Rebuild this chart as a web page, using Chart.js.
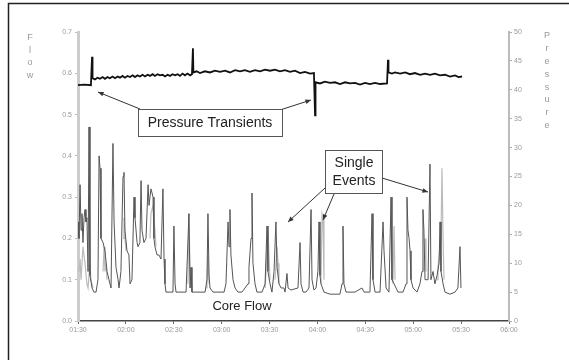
<!DOCTYPE html>
<html>
<head>
<meta charset="utf-8">
<script src="https://cdn.jsdelivr.net/npm/chart.js@4"></script>
<style>
  html, body { margin: 0; padding: 0; background: #fff; }
  #wrap { width: 569px; height: 360px; }
</style>
</head>
<body>
<div id="wrap"><canvas id="chart" width="569" height="360"></canvas></div>
<script>
// time axis: minutes after 01:30
const timeTicks = [0, 30, 60, 90, 120, 150, 180, 210, 240, 270];
const startMinutes = 90; // 01:30

// core flow (dark trace): [minutes, flow]
const flowDark = [
  [0, 0.24], [0.6, 0.20], [1.3, 0.33], [1.9, 0.22], [2.5, 0.26], [3.1, 0.19], [3.8, 0.25],
  [4.4, 0.27], [5.0, 0.24], [5.6, 0.25], [6.3, 0.12], [6.9, 0.47], [7.5, 0.11], [8.8, 0.08],
  [10.0, 0.07], [11.3, 0.07], [12.5, 0.10], [13.2, 0.40], [13.8, 0.37], [14.4, 0.20],
  [15.7, 0.19], [16.9, 0.17], [18.2, 0.12], [19.4, 0.10], [20.7, 0.08], [21.9, 0.43],
  [22.6, 0.24], [23.8, 0.13], [25.1, 0.10], [25.7, 0.08], [26.9, 0.12], [28.2, 0.35],
  [28.8, 0.36], [29.4, 0.22], [30.7, 0.17], [31.9, 0.16], [32.6, 0.09], [33.8, 0.10],
  [35.1, 0.30], [35.7, 0.25], [37.0, 0.19], [37.6, 0.18], [38.8, 0.19], [39.5, 0.34],
  [40.1, 0.22], [41.3, 0.19], [42.6, 0.20], [43.9, 0.33], [44.5, 0.28], [45.7, 0.32],
  [46.4, 0.31], [47.0, 0.30], [47.6, 0.20], [48.2, 0.18], [49.5, 0.16], [50.7, 0.16],
  [52.0, 0.15], [53.2, 0.32], [53.9, 0.15], [54.5, 0.09], [55.1, 0.07], [57.6, 0.07],
  [59.5, 0.07], [60.1, 0.23], [60.8, 0.09], [61.4, 0.07], [63.9, 0.07], [67.7, 0.07],
  [69.5, 0.26], [70.2, 0.08], [70.8, 0.13], [71.4, 0.07], [73.9, 0.07], [79.6, 0.07],
  [80.8, 0.10], [81.4, 0.26], [82.1, 0.11], [82.7, 0.08], [84.6, 0.07], [91.5, 0.07],
  [92.7, 0.09], [94.0, 0.24], [94.6, 0.18], [95.2, 0.27], [95.8, 0.16], [97.1, 0.10],
  [98.4, 0.08], [100.2, 0.07], [102.7, 0.07], [104.6, 0.08], [106.5, 0.09], [107.1, 0.13],
  [108.4, 0.20], [109.0, 0.31], [109.6, 0.14], [110.9, 0.09], [112.1, 0.07], [115.3, 0.07],
  [117.2, 0.09], [118.4, 0.23], [119.0, 0.12], [120.3, 0.09], [121.5, 0.07], [122.8, 0.12],
  [124.0, 0.24], [124.7, 0.13], [125.9, 0.09], [127.2, 0.08], [129.0, 0.08], [129.7, 0.07],
  [130.9, 0.115], [131.6, 0.08], [133.4, 0.075], [137.8, 0.08], [139.1, 0.19], [139.7, 0.09],
  [141.0, 0.07], [142.8, 0.07], [144.7, 0.08], [146.0, 0.27], [146.6, 0.10], [147.8, 0.075],
  [149.1, 0.08], [150.3, 0.12], [151.0, 0.24], [151.6, 0.11], [152.2, 0.09], [154.1, 0.07],
  [157.9, 0.065], [164.1, 0.065], [165.4, 0.09], [166.0, 0.23], [166.6, 0.09], [167.9, 0.07],
  [173.5, 0.07], [177.9, 0.08], [179.2, 0.07], [182.9, 0.07], [184.2, 0.26], [184.8, 0.10],
  [186.1, 0.07], [189.2, 0.07], [191.1, 0.24], [191.7, 0.17], [193.0, 0.08], [194.8, 0.07],
  [196.1, 0.30], [196.7, 0.10], [198.0, 0.09], [200.5, 0.07], [203.6, 0.07], [205.5, 0.09],
  [206.1, 0.30], [206.7, 0.22], [207.4, 0.20], [208.0, 0.17], [208.6, 0.10], [209.9, 0.08],
  [212.4, 0.07], [214.2, 0.09], [215.5, 0.12], [216.1, 0.27], [216.7, 0.22], [217.4, 0.10],
  [219.3, 0.10], [220.5, 0.38], [221.1, 0.10], [222.4, 0.12], [223.6, 0.09], [224.9, 0.11],
  [226.2, 0.14], [226.8, 0.24], [227.4, 0.12], [228.7, 0.09], [229.9, 0.07], [233.0, 0.065],
  [236.2, 0.07], [238.0, 0.08], [239.3, 0.18], [239.9, 0.08]
];

// core flow (light trace), null = gap
const flowLight = [
  [0.6, 0.12], [1.3, 0.15], [1.9, 0.10], [3.1, 0.18], [4.4, 0.14], [5.6, 0.09], [6.3, 0.08],
  [7.5, 0.14], [8.1, 0.10], [9.4, 0.08], null,
  [15.7, 0.12], [16.3, 0.18], [16.9, 0.12], [17.5, 0.14], [18.2, 0.10], null,
  [28.2, 0.20], [28.8, 0.25], [29.4, 0.20], [30.1, 0.17], null,
  [45.1, 0.20], [45.7, 0.26], [47.0, 0.28], [48.2, 0.22], [48.9, 0.18], null,
  [68.9, 0.09], [69.5, 0.26], [70.2, 0.12], [70.8, 0.08], null,
  [80.2, 0.08], [80.8, 0.09], [81.4, 0.16], [82.1, 0.09], null,
  [117.2, 0.08], [117.8, 0.12], [119.0, 0.22], [120.3, 0.10], null,
  [123.4, 0.10], [124.7, 0.18], [125.3, 0.14], [125.9, 0.09], null,
  [152.2, 0.09], [152.9, 0.26], [153.5, 0.25], [154.1, 0.10], null,
  [197.3, 0.09], [198.0, 0.23], [198.6, 0.10], null,
  [216.7, 0.12], [217.4, 0.20], [218.0, 0.12], null,
  [224.9, 0.10], [225.5, 0.13], [227.4, 0.20], [228.0, 0.37], [228.7, 0.20], [229.3, 0.10]
];

// pressure (right axis): [minutes, pressure]
const pressure = [
  [0, 40.8], [4.0, 40.9], [8.1, 40.8], [8.8, 45.7], [9.1, 42.0], [10.6, 41.8], [12.2, 42.1],
  [13.8, 41.9], [15.4, 42.2], [16.9, 41.9], [18.5, 42.2], [20.0, 42.0], [21.6, 42.3],
  [23.2, 42.0], [24.8, 42.3], [26.3, 42.1], [27.9, 42.4], [29.4, 42.1], [31.0, 42.4],
  [32.6, 42.2], [34.2, 42.5], [35.7, 42.2], [37.3, 42.5], [38.8, 42.3], [40.4, 42.6],
  [42.0, 42.3], [43.6, 42.6], [45.1, 42.4], [46.7, 42.7], [48.2, 42.4], [49.8, 42.7],
  [51.4, 42.5], [53.0, 42.6], [54.5, 42.3], [56.1, 42.6], [57.6, 42.4], [59.2, 42.7],
  [60.8, 42.5], [62.4, 42.7], [63.9, 42.4], [65.5, 42.8], [67.0, 42.5], [68.6, 42.8],
  [70.2, 42.5], [71.4, 42.7], [72.0, 47.2], [72.3, 43.0], [74.3, 43.2], [76.4, 42.9],
  [79.5, 43.2], [82.7, 43.0], [85.8, 43.3], [89.0, 43.1], [92.1, 43.3], [95.2, 43.0],
  [98.4, 43.4], [101.5, 43.2], [104.6, 43.4], [107.7, 43.1], [110.9, 43.4], [114.0, 43.2],
  [117.2, 43.5], [120.3, 43.3], [123.4, 43.5], [126.5, 43.2], [129.7, 43.4], [132.8, 43.1],
  [135.9, 43.3], [139.1, 42.9], [142.2, 43.1], [145.4, 42.8], [147.8, 42.9], [148.5, 35.6],
  [148.8, 41.3], [151.6, 41.1], [154.7, 41.4], [157.9, 41.2], [161.0, 41.3], [164.1, 41.0],
  [167.3, 41.3], [170.4, 41.1], [173.5, 41.2], [176.7, 40.9], [179.8, 41.2], [182.9, 41.0],
  [186.1, 41.2], [189.2, 41.0], [193.6, 41.1], [194.2, 45.2], [194.5, 43.0], [196.6, 42.8],
  [198.6, 43.0], [201.8, 42.8], [204.9, 43.0], [208.0, 42.7], [211.1, 42.9], [214.3, 42.6],
  [217.4, 42.8], [220.5, 42.6], [223.6, 42.8], [226.8, 42.5], [229.9, 42.6], [233.0, 42.3],
  [236.2, 42.5], [238.4, 42.2], [240.6, 42.3]
];

function toPoints(pairs) {
  return pairs.map((p, i) => p ? { x: p[0], y: p[1] } : { x: pairs[i - 1][0] + 0.1, y: null });
}

function fmtTime(v) {
  const m = startMinutes + v;
  const h = Math.floor(m / 60), mm = Math.round(m % 60);
  return String(h).padStart(2, '0') + ':' + String(mm).padStart(2, '0');
}

const FONT = "'Liberation Sans', Arial, sans-serif";

// arrow helper
function arrow(ctx, x1, y1, x2, y2) {
  const a = Math.atan2(y2 - y1, x2 - x1);
  ctx.beginPath();
  ctx.moveTo(x1, y1);
  ctx.lineTo(x2, y2);
  ctx.stroke();
  ctx.beginPath();
  ctx.moveTo(x2, y2);
  ctx.lineTo(x2 - 6 * Math.cos(a - 0.4), y2 - 6 * Math.sin(a - 0.4));
  ctx.lineTo(x2 - 6 * Math.cos(a + 0.4), y2 - 6 * Math.sin(a + 0.4));
  ctx.closePath();
  ctx.fill();
}

// labels, boxes and arrows drawn over the chart
const annotations = {
  id: 'annotations',
  beforeDraw(chart) {
    const ctx = chart.ctx;
    ctx.save();
    ctx.fillStyle = '#fff';
    ctx.fillRect(0, 0, chart.width, chart.height);
    ctx.strokeStyle = '#222';
    ctx.lineWidth = 1.5;
    ctx.beginPath();
    ctx.moveTo(8.5, 360);
    ctx.lineTo(8.5, 3.5);
    ctx.lineTo(569, 3.5);
    ctx.stroke();
    ctx.restore();
  },
  afterDraw(chart) {
    const ctx = chart.ctx;
    ctx.save();

    // stacked axis titles
    ctx.fillStyle = '#999';
    ctx.font = '9px ' + FONT;
    ctx.textAlign = 'center';
    ctx.textBaseline = 'middle';
    'Flow'.split('').forEach((c, i) => ctx.fillText(c, 30, 38 + i * 12.5));
    'Pressure'.split('').forEach((c, i) => ctx.fillText(c, 547, 36 + i * 12.8));

    ctx.strokeStyle = '#333';
    ctx.fillStyle = '#333';
    ctx.lineWidth = 1;

    // Pressure Transients
    arrow(ctx, 140, 109, 98, 92);
    arrow(ctx, 280, 110, 311, 100);
    ctx.fillStyle = '#fff';
    ctx.fillRect(138, 109, 144, 27);
    ctx.strokeStyle = '#555';
    ctx.strokeRect(138.5, 109.5, 144, 27);
    ctx.fillStyle = '#222';
    ctx.font = '14px ' + FONT;
    ctx.fillText('Pressure Transients', 210, 123);

    // Single Events
    ctx.strokeStyle = '#333';
    ctx.fillStyle = '#333';
    arrow(ctx, 325, 188, 288, 222);
    arrow(ctx, 334, 194, 323, 220);
    arrow(ctx, 382, 178, 428, 192);
    ctx.fillStyle = '#fff';
    ctx.fillRect(325, 150, 57, 43);
    ctx.strokeStyle = '#555';
    ctx.strokeRect(325.5, 150.5, 57, 43);
    ctx.fillStyle = '#222';
    ctx.fillText('Single', 354, 163);
    ctx.fillText('Events', 354, 181);

    // Core Flow
    ctx.font = '13px ' + FONT;
    ctx.fillText('Core Flow', 242, 306);

    ctx.restore();
  }
};

const ctx = document.getElementById('chart');
new Chart(ctx, {
  type: 'line',
  data: {
    datasets: [
      {
        label: 'Pressure',
        data: toPoints(pressure),
        yAxisID: 'yP',
        borderColor: '#111',
        borderWidth: 1.8,
        pointRadius: 0,
        tension: 0,
        order: 0
      },
      {
        label: 'Core Flow',
        data: toPoints(flowDark),
        yAxisID: 'yF',
        borderColor: '#555',
        borderWidth: 1,
        pointRadius: 0,
        tension: 0,
        order: 1
      },
      {
        label: 'Core Flow (2)',
        data: toPoints(flowLight),
        yAxisID: 'yF',
        borderColor: '#bbb',
        borderWidth: 1.2,
        pointRadius: 0,
        tension: 0,
        spanGaps: false,
        order: 2
      }
    ]
  },
  options: {
    responsive: false,
    animation: false,
    layout: { padding: { top: 32, left: 0, right: 0, bottom: 0 } },
    plugins: {
      legend: { display: false },
      tooltip: { enabled: false }
    },
    scales: {
      x: {
        type: 'linear',
        min: 0,
        max: 270,
        afterBuildTicks: (scale) => { scale.ticks = timeTicks.map(v => ({ value: v })); },
        afterFit: (scale) => { scale.height = 39; },
        ticks: {
          color: '#999',
          font: { family: FONT, size: 7 },
          padding: 2,
          maxRotation: 0,
          callback: (v) => fmtTime(v)
        },
        grid: { drawOnChartArea: false, drawTicks: true, tickLength: 3, color: '#666' },
        border: { color: '#444', width: 1.5 }
      },
      yF: {
        position: 'left',
        min: 0,
        max: 0.7,
        afterFit: (scale) => { scale.width = 78; },
        ticks: {
          stepSize: 0.1,
          color: '#999',
          font: { family: FONT, size: 7 },
          padding: 3,
          callback: (v) => v.toFixed(1)
        },
        grid: { drawOnChartArea: false, drawTicks: true, tickLength: 3, color: '#bbb' },
        border: { color: '#ccc', width: 3 }
      },
      yP: {
        position: 'right',
        min: 0,
        max: 50,
        afterFit: (scale) => { scale.width = 60; },
        ticks: {
          stepSize: 5,
          color: '#999',
          font: { family: FONT, size: 7 },
          padding: 2
        },
        grid: { drawOnChartArea: false, drawTicks: true, tickLength: 3, color: '#aaa' },
        border: { color: '#bbb', width: 2 }
      }
    }
  },
  plugins: [annotations]
});
</script>
</body>
</html>
